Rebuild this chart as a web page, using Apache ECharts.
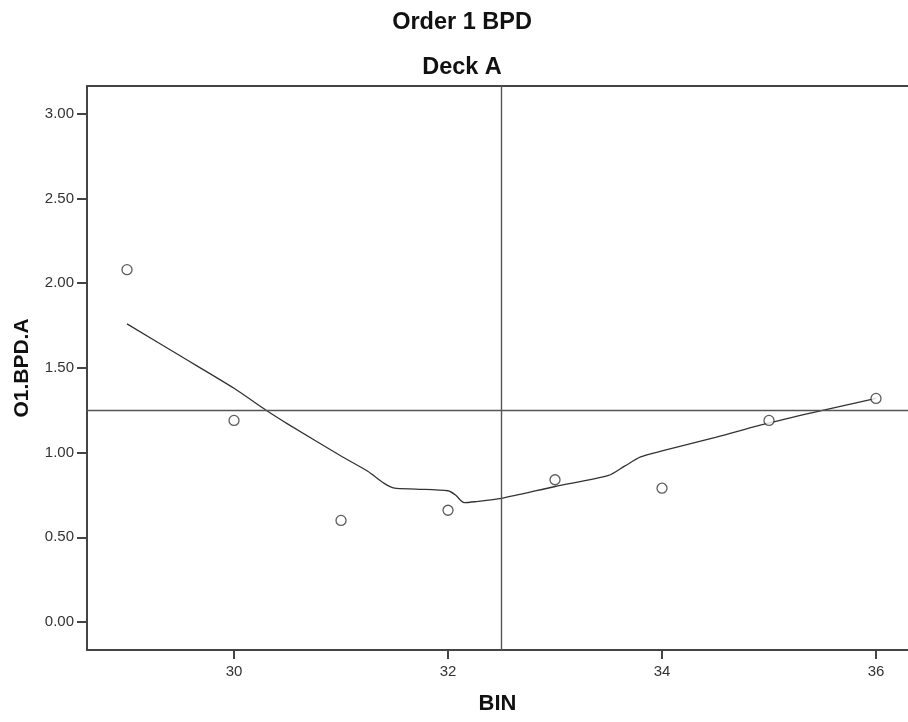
<!DOCTYPE html>
<html><head><meta charset="utf-8">
<script src="https://cdn.jsdelivr.net/npm/echarts@6/dist/echarts.min.js"></script>
<style>html,body{margin:0;padding:0;background:#fff;}#c{width:908px;height:722px;}</style>
</head><body><div id="c"></div>
<script>
const titleText = "Order 1 BPD";
const subtitleText = "Deck A";
const xName = "BIN";
const yName = "O1.BPD.A";
const binValues = [29, 30, 31, 32, 33, 34, 35, 36];
const bpdValues = [2.08, 1.19, 0.60, 0.66, 0.84, 0.79, 1.19, 1.32];
const fitX = [29.0, 29.5, 30.0, 30.3, 30.5, 31.0, 31.25, 31.4, 31.5, 31.7, 32.0, 32.07, 32.15, 32.25, 32.5, 33.0, 33.5, 33.65, 33.8, 34.0, 34.5, 35.0, 35.5, 36.0];
const fitY = [1.76, 1.57, 1.38, 1.25, 1.17, 0.98, 0.89, 0.82, 0.79, 0.785, 0.775, 0.75, 0.705, 0.71, 0.73, 0.80, 0.865, 0.92, 0.975, 1.01, 1.09, 1.175, 1.25, 1.32];
const xTicks = [30, 32, 34, 36];
const yTicks = [0, 0.5, 1.0, 1.5, 2.0, 2.5, 3.0];
const refX = 32.5;
const refY = 1.25;

const chart = echarts.init(document.getElementById('c'), null, {renderer: 'canvas'});
const font = "'Liberation Sans', Arial, sans-serif";
const axisColor = '#444';
chart.setOption({
  animation: false,
  backgroundColor: '#fff',
  title: [
    {text: titleText, left: 457, top: 6, textAlign: 'center',
     textStyle: {fontFamily: font, fontSize: 23.5, fontWeight: 'bold', color: '#111'}},
    {text: subtitleText, left: 457, top: 51, textAlign: 'center',
     textStyle: {fontFamily: font, fontSize: 23.5, fontWeight: 'bold', color: '#111'}}
  ],
  grid: {left: 87, top: 86, bottom: 72, right: 0, show: false},
  xAxis: [{
    type: 'value', min: 28.626, max: 36.299,
    name: xName, nameLocation: 'middle', nameGap: 43,
    nameTextStyle: {fontFamily: font, fontSize: 22, fontWeight: 'bold', color: '#111'},
    axisLine: {show: true, onZero: false, lineStyle: {color: axisColor, width: 2}},
    axisTick: {show: true, length: 9, customValues: xTicks, lineStyle: {color: axisColor, width: 2}},
    axisLabel: {customValues: xTicks, margin: 14, fontFamily: font, fontSize: 15, color: '#333',
      formatter: v => String(Math.round(v))},
    splitLine: {show: false}
  }, {
    type: 'value', position: 'top', min: 28.626, max: 36.299,
    axisLine: {show: true, onZero: false, lineStyle: {color: axisColor, width: 2}},
    axisTick: {show: false}, axisLabel: {show: false}, splitLine: {show: false}
  }],
  yAxis: {
    type: 'value', min: -0.165, max: 3.164,
    name: yName, nameLocation: 'middle', nameGap: 54, nameRotate: 90,
    nameTextStyle: {fontFamily: font, fontSize: 21, fontWeight: 'bold', color: '#111'},
    axisLine: {show: true, onZero: false, lineStyle: {color: axisColor, width: 2}},
    axisTick: {show: true, length: 10, customValues: yTicks, lineStyle: {color: axisColor, width: 2}},
    axisLabel: {customValues: yTicks, margin: 13, fontFamily: font, fontSize: 15, color: '#333',
      formatter: v => v.toFixed(2)},
    splitLine: {show: false}
  },
  series: [
    {
      type: 'line', data: fitX.map((x, i) => [x, fitY[i]]),
      showSymbol: false, smooth: 0.25, lineStyle: {color: '#333', width: 1.3}, z: 3,
      markLine: {
        silent: true, symbol: 'none', label: {show: false},
        lineStyle: {color: '#555', width: 1.4, type: 'solid'},
        data: [{xAxis: refX}, {yAxis: refY}]
      }
    },
    {
      type: 'scatter', data: binValues.map((x, i) => [x, bpdValues[i]]),
      symbol: 'circle', symbolSize: 10,
      itemStyle: {color: '#fff', borderColor: '#333', borderWidth: 1.3}, z: 4
    }
  ]
});
</script></body></html>
